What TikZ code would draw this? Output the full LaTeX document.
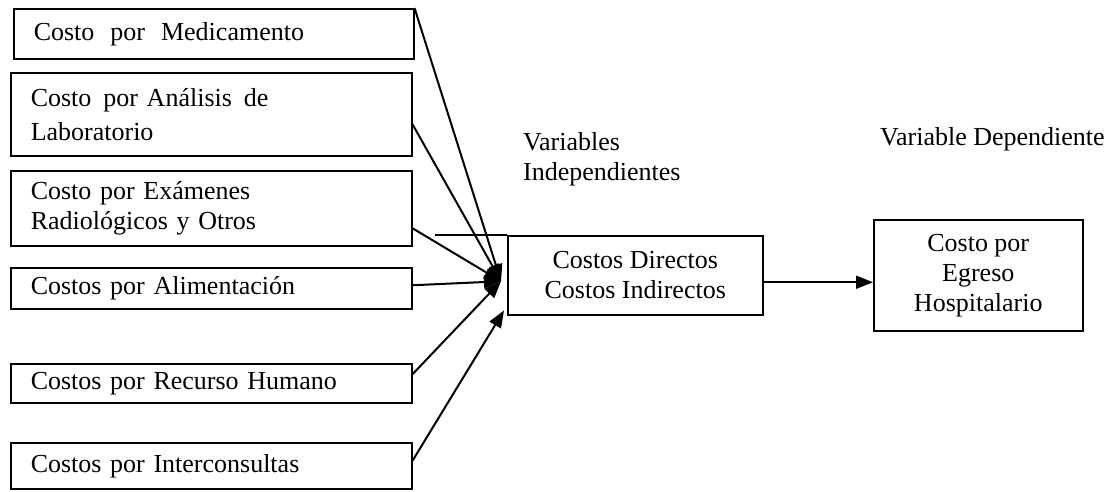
\documentclass[tikz,border=0pt]{standalone}
\usepackage{fontspec}
\setmainfont{Liberation Serif}
\usetikzlibrary{arrows.meta,calc}
\begin{document}
\begin{tikzpicture}[x=1pt,y=-1pt,
  txt/.style={font=\fontsize{26}{30}\selectfont},
  lbox/.style={txt, draw, line width=1.5pt, anchor=north west, inner xsep=20pt, inner ysep=0pt,
     minimum width=401pt, text width=361pt, align=left},
  cbox/.style={txt, draw, line width=1.5pt, anchor=north west, inner sep=0pt, align=center},
  lbl/.style={txt, anchor=north west, inner sep=0pt, align=left},
  conn/.style={line width=2pt, -{Triangle[length=17pt,width=13pt]}}
]
\useasboundingbox (0,0) rectangle (1116,491);
% left boxes
\node[lbox, minimum height=50pt, minimum width=400pt, text width=360pt] (b1) at (13,8) {\raisebox{-4pt}{Costo\hspace{16pt}por\hspace{16pt}Medicamento}};
\node[lbox, minimum height=83pt] (b2) at (10,72) {Costo\hspace{12pt}por Análisis\hspace{12pt}de\\[4pt]Laboratorio};
\node[lbox, minimum height=75pt] (b3) at (10,170) {Costo por Exámenes\\Radiológicos y Otros};
\node[lbox, minimum height=41pt] (b4) at (10,267) {Costos por Alimentación};
\node[lbox, minimum height=39pt] (b5) at (10,363) {Costos por Recurso Humano};
\node[lbox, minimum height=46pt] (b6) at (10,442) {Costos por Interconsultas};
% middle and right boxes
\node[cbox, minimum width=255pt, minimum height=79pt] (mid) at (507,235) {Costos Directos\\Costos Indirectos};
\node[cbox, minimum width=209pt, minimum height=111pt] (out) at (873,219) {Costo por\\Egreso\\Hospitalario};
% labels
\node[lbl] (lind) at (523,132) {Variables\\Independientes};
\node[lbl] (ldep) at (880,127) {Variable Dependiente};
% connector points
\coordinate (conv) at ($(mid.west)+(-6,6)$);
\coordinate (ext) at (435,235);
\draw[line width=1.5pt] (ext) -- (mid.north west);
\draw[conn] (b1.north east) -- (conv);
\draw[conn] ($(b2.east)+(0,10)$) -- (conv);
\draw[conn] ($(b3.east)+(0,20)$) -- (conv);
\draw[conn] ($(b4.east)+(0,-3)$) -- (conv);
\draw[conn] ($(b5.east)+(0,-9)$) -- (conv);
\draw[conn] ($(b6.east)+(0,-5)$) -- ($(mid.south west)+(-3,-5)$);
\draw[conn] ($(mid.east)+(0,7)$) -- ($(out.west)+(0,7)$);
\end{tikzpicture}
\end{document}
